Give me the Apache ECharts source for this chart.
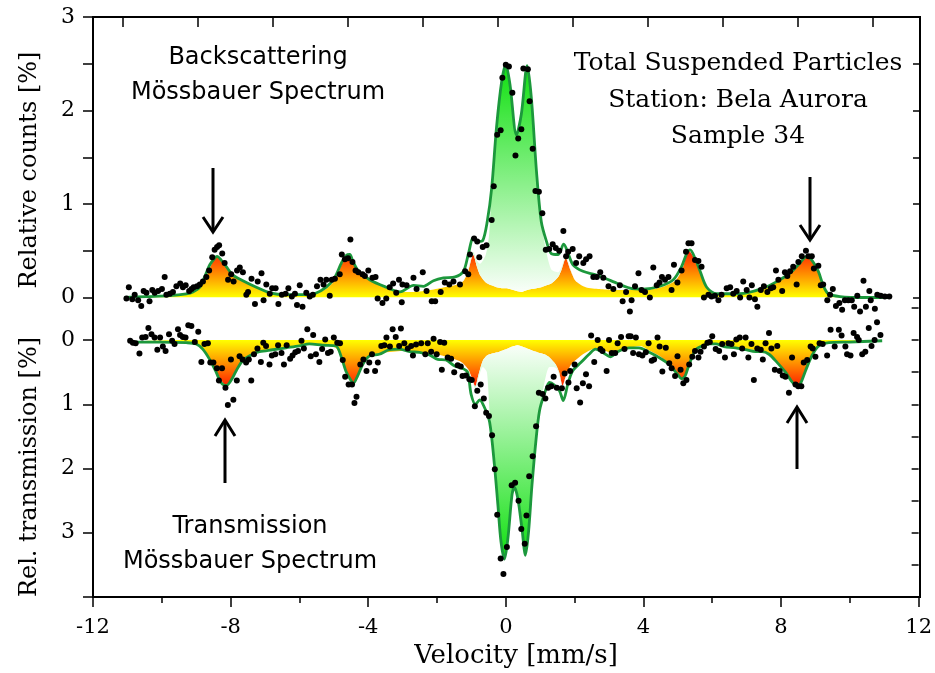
<!DOCTYPE html>
<html><head><meta charset="utf-8">
<script src="https://cdn.jsdelivr.net/npm/echarts@6/dist/echarts.min.js"></script>
<style>html,body{margin:0;padding:0;background:#fff}#c{width:935px;height:673px}</style>
</head><body><div id="c"></div>
<script>
// ---------- Backscattering spectrum (top panel) ----------
const bsPointVel = [-11.03,-10.96,-10.86,-10.79,-10.69,-10.60,-10.53,-10.45,-10.36,-10.28,-10.21,-10.11,-10.00,-9.92,-9.87,-9.77,-9.68,-9.58,-9.47,-9.39,-9.31,-9.21,-9.14,-9.08,-8.98,-8.90,-8.81,-8.71,-8.63,-8.54,-8.47,-8.40,-8.34,-8.25,-8.18,-8.08,-7.99,-7.92,-7.82,-7.74,-7.65,-7.55,-7.50,-7.40,-7.30,-7.22,-7.11,-7.05,-6.97,-6.87,-6.80,-6.70,-6.62,-6.52,-6.41,-6.33,-6.23,-6.14,-6.08,-6.00,-5.92,-5.81,-5.71,-5.62,-5.50,-5.40,-5.31,-5.23,-5.13,-5.07,-4.98,-4.84,-4.78,-4.69,-4.60,-4.53,-4.47,-4.38,-4.30,-4.18,-4.11,-4.01,-3.89,-3.80,-3.74,-3.60,-3.49,-3.39,-3.29,-3.20,-3.12,-3.02,
-3.04,-2.90,-2.70,-2.61,-2.43,-2.32,-2.17,-2.07,-1.91,-1.79,-1.66,-1.54,-1.35,-1.20,-1.11,-1.06,-0.94,-0.85,-0.79,-0.69,-0.58,-0.43,-0.37,-0.27,-0.17,-0.12,-0.02,0.07,0.17,0.26,0.34,0.43,0.49,0.62,0.67,0.76,0.84,0.94,1.04,1.14,1.24,1.34,1.43,1.53,1.65,1.73,1.79,1.92,2.02,2.11,2.23,2.31,2.41,2.52,2.62,2.72,2.81,2.96,3.10,3.29,3.37,3.47,
3.58,3.63,3.73,3.83,3.92,4.02,4.16,4.26,4.36,4.44,4.51,4.60,4.70,4.79,4.86,4.96,5.08,5.21,5.28,5.37,5.47,5.57,5.66,5.73,5.86,5.95,6.05,6.15,6.24,6.39,6.49,6.58,6.68,6.78,6.87,6.97,7.05,7.12,7.21,7.28,7.38,7.47,7.57,7.67,7.74,7.82,7.89,8.00,8.08,8.15,8.23,8.32,8.42,8.47,8.57,8.69,8.76,8.86,8.92,9.05,9.12,9.19,9.31,9.39,9.47,9.56,9.66,9.74,9.82,9.92,10.02,10.09,10.18,10.26,10.36,10.43,10.53,10.57,10.69,10.76,10.86,10.98,11.11];
const bsPointCounts = [-0.01,0.11,-0.02,0.03,-0.03,-0.09,0.07,0.05,-0.04,0.08,0.05,0.07,0.09,0.22,0.03,0.04,0.06,0.12,0.15,0.11,0.13,0.07,0.09,0.11,0.12,0.14,0.17,0.22,0.29,0.43,0.51,0.54,0.56,0.47,0.37,0.19,0.25,0.17,0.29,0.32,0.27,0.03,0.06,0.20,-0.07,0.17,0.26,-0.03,0.14,0.04,0.10,0.10,-0.07,0.03,0.04,0.10,0.01,0.04,-0.08,0.13,-0.10,0.05,0.01,0.03,0.12,0.19,0.14,0.19,0.02,0.19,0.20,0.25,0.46,0.41,0.42,0.62,0.38,0.29,0.27,0.25,0.23,0.29,0.21,0.22,-0.01,-0.06,-0.01,0.11,0.15,0.05,0.19,0.14,
-0.05,0.13,0.21,0.09,0.27,0.07,-0.04,-0.04,0.06,0.16,0.14,0.17,0.14,0.28,0.25,0.46,0.63,0.60,0.43,0.54,0.56,0.83,1.19,1.74,1.79,2.35,2.49,2.47,2.19,1.52,1.70,1.80,2.45,2.44,2.10,1.59,1.14,1.13,0.90,0.51,0.52,0.57,0.53,0.50,0.71,0.44,0.49,0.52,0.37,0.44,0.37,0.41,0.44,0.22,0.22,0.27,0.21,0.12,0.09,0.13,-0.04,0.06,
-0.15,-0.03,0.12,0.26,0.08,0.06,0.00,0.32,0.13,0.16,0.22,0.19,0.22,0.08,0.35,0.16,0.29,0.49,0.58,0.58,0.40,0.39,0.33,0.00,0.03,0.01,0.02,-0.03,0.03,0.10,0.11,0.04,0.07,0.00,0.17,0.08,0.00,0.13,-0.02,-0.10,0.08,0.12,0.06,0.10,0.11,0.29,0.19,0.07,0.27,0.23,0.28,0.33,0.14,0.38,0.44,0.50,0.44,0.44,0.31,0.34,0.13,0.14,-0.03,0.03,0.09,-0.09,-0.06,-0.13,-0.03,-0.03,-0.03,-0.10,0.02,-0.15,0.18,-0.10,0.07,-0.03,-0.12,0.03,0.02,0.01,0.01];
const bsFitVel = [-11.08,-10.45,-9.77,-9.29,-9.10,-8.90,-8.76,-8.61,-8.47,-8.40,-8.28,-8.13,-7.94,-7.65,-7.26,-6.87,-6.39,-5.81,-5.57,-5.23,-4.99,-4.79,-4.65,-4.55,-4.45,-4.31,-3.97,-3.49,-3.09,-2.70,-2.41,-2.12,-1.83,-1.49,-1.25,-1.11,-0.96,-0.82,-0.69,-0.56,-0.43,-0.29,-0.14,-0.02,0.10,0.29,0.43,0.60,0.72,0.87,1.01,1.16,1.30,1.50,1.66,1.79,1.93,2.22,2.61,3.09,3.58,3.97,4.45,4.84,5.08,5.23,5.33,5.47,5.62,5.81,6.10,6.49,6.97,7.45,7.84,8.23,8.52,8.71,8.86,9.05,9.19,9.34,9.68,10.36,11.13];
const bsFitCounts = [0.00,0.01,0.02,0.04,0.06,0.11,0.22,0.35,0.42,0.44,0.40,0.33,0.24,0.18,0.11,0.05,0.03,0.03,0.04,0.11,0.21,0.37,0.45,0.46,0.38,0.29,0.19,0.11,0.06,0.13,0.12,0.18,0.21,0.22,0.28,0.46,0.64,0.60,0.61,0.81,1.17,1.82,2.31,2.49,2.28,1.74,1.96,2.48,2.14,1.35,0.81,0.60,0.47,0.46,0.57,0.47,0.35,0.28,0.24,0.17,0.10,0.09,0.12,0.19,0.33,0.47,0.51,0.42,0.28,0.11,0.04,0.04,0.05,0.10,0.17,0.26,0.37,0.44,0.40,0.28,0.13,0.04,0.01,0.00,0.00];
const bsCompVel = [-11.1,-10,-9.5,-9.2,-9.0,-8.8,-8.6,-8.42,-8.3,-8.1,-7.9,-7.6,-7.2,-6.8,-6.2,-5.8,-5.5,-5.2,-4.95,-4.75,-4.57,-4.45,-4.3,-4.0,-3.5,-3.1,-2.7,-2.2,-1.8,-1.5,-1.25,-1.1,-0.97,-0.85,-0.77,-0.6,-0.5,-0.43,-0.29,-0.14,-0.02,0.1,0.29,0.43,0.6,0.72,0.87,1.01,1.16,1.3,1.5,1.6,1.72,1.85,2.0,2.3,2.7,3.1,3.6,4.0,4.5,4.9,5.1,5.29,5.45,5.6,5.8,6.1,6.5,7.0,7.5,7.9,8.25,8.55,8.72,8.9,9.05,9.2,9.35,9.7,11.1];
const bsSextet = [0,0.01,0.02,0.04,0.07,0.15,0.32,0.44,0.40,0.32,0.23,0.17,0.10,0.05,0.03,0.03,0.05,0.10,0.20,0.38,0.45,0.38,0.28,0.19,0.10,0.06,0.06,0.08,0.11,0.13,0.18,0.30,0.46,0.32,0.24,0.16,0.14,0.13,0.11,0.10,0.10,0.09,0.07,0.06,0.08,0.09,0.10,0.11,0.13,0.15,0.22,0.30,0.42,0.30,0.18,0.11,0.09,0.08,0.08,0.08,0.11,0.18,0.30,0.50,0.42,0.28,0.11,0.04,0.04,0.05,0.10,0.17,0.26,0.38,0.44,0.38,0.27,0.12,0.04,0.01,0];
const bsDoublet = [0,0,0,0,0,0,0,0,0,0,0,0,0,0,0,0,0,0,0,0,0,0,0,0,0,0,0,0,0,0,0.01,0.02,0.03,0.07,0.12,0.30,0.55,1.04,1.71,2.21,2.39,2.19,1.68,1.89,2.40,2.05,1.25,0.70,0.35,0.15,0.05,0.03,0.02,0.01,0,0,0,0,0,0,0,0,0,0,0,0,0,0,0,0,0,0,0,0,0,0,0,0,0,0,0];

// ---------- Transmission spectrum (bottom panel) ----------
const trPointVel = [-10.92,-10.84,-10.76,-10.65,-10.57,-10.47,-10.39,-10.30,-10.21,-10.13,-10.05,-9.97,-9.89,-9.79,-9.70,-9.63,-9.53,-9.47,-9.39,-9.31,-9.23,-9.14,-9.04,-8.94,-8.85,-8.76,-8.66,-8.59,-8.50,-8.40,-8.34,-8.25,-8.15,-8.08,-7.99,-7.92,-7.82,-7.74,-7.65,-7.55,-7.47,-7.40,-7.32,-7.22,-7.12,-7.05,-6.97,-6.87,-6.80,-6.70,-6.62,-6.52,-6.45,-6.37,-6.27,-6.20,-6.12,-6.04,-5.94,-5.87,-5.77,-5.67,-5.60,-5.52,-5.42,-5.34,-5.25,-5.17,-5.09,-5.00,-4.90,-4.82,-4.74,-4.67,-4.57,-4.47,-4.40,-4.34,-4.23,-4.14,-4.05,-3.97,-3.89,-3.80,-3.72,-3.62,-3.53,-3.47,-3.37,-3.29,-3.20,-3.10,-3.05,
-2.95,-2.85,-2.75,-2.70,-2.61,-2.46,-2.34,-2.27,-2.17,-2.10,-2.01,-1.91,-1.86,-1.79,-1.69,-1.59,-1.50,-1.40,-1.31,-1.26,-1.16,-1.06,-0.99,-0.90,-0.83,-0.73,-0.64,-0.57,-0.49,-0.40,-0.32,-0.25,-0.15,-0.07,0.03,0.17,0.27,0.37,0.45,0.55,0.60,0.68,0.78,0.88,0.96,1.07,1.15,1.23,1.32,1.39,1.48,1.63,1.71,1.82,1.87,2.00,2.06,2.16,2.24,2.33,2.42,2.48,2.57,2.67,2.75,2.81,2.93,3.00,3.08,3.18,3.25,3.35,3.45,3.57,
3.63,3.70,3.78,3.87,3.97,4.07,4.15,4.24,4.31,4.41,4.47,4.55,4.65,4.75,4.82,4.92,4.99,5.08,5.16,5.25,5.33,5.42,5.50,5.60,5.66,5.76,5.86,5.93,6.00,6.10,6.20,6.29,6.37,6.47,6.56,6.63,6.70,6.80,6.87,6.97,7.05,7.14,7.21,7.31,7.41,7.47,7.55,7.65,7.72,7.82,7.89,7.96,8.05,8.13,8.23,8.32,8.42,8.50,8.59,8.66,8.76,8.86,8.92,9.00,9.12,9.21,9.34,9.44,9.56,9.68,9.76,9.87,9.92,10.02,10.11,10.21,10.26,10.36,10.45,10.55,10.63,10.72,10.79,10.89];
const trPointTrans = [0.01,0.04,0.05,0.21,-0.04,-0.05,-0.19,-0.09,-0.04,0.15,-0.04,0.10,0.17,-0.09,0.01,0.06,-0.17,-0.08,-0.05,-0.04,-0.23,-0.22,0.03,-0.13,0.34,0.06,0.05,0.35,0.35,0.44,0.63,0.44,0.74,1.01,0.30,0.93,0.63,0.25,0.30,0.35,0.30,0.63,0.22,0.13,0.34,0.04,0.09,0.38,0.24,0.22,0.08,0.20,0.38,0.08,0.29,0.24,0.19,0.17,0.01,0.13,-0.17,0.25,-0.08,0.22,0.34,0.14,-0.01,0.20,0.18,-0.04,0.04,0.05,0.31,0.57,0.69,0.69,0.98,0.88,0.38,0.30,0.48,0.35,0.22,0.48,0.35,0.09,0.08,-0.04,0.10,-0.17,-0.05,0.09,-0.18,
0.05,0.13,0.09,0.24,0.07,0.05,0.22,0.05,0.18,-0.02,0.22,0.03,0.46,0.04,0.27,0.29,0.50,0.39,0.41,0.56,0.55,0.61,0.62,1.03,0.79,0.69,0.91,1.13,1.18,1.48,2.01,2.72,3.40,3.64,3.22,2.26,2.22,2.50,2.94,3.17,2.73,2.12,1.81,1.34,0.82,0.84,0.91,0.74,0.72,0.57,0.74,0.75,0.52,0.66,0.48,0.38,0.75,0.97,0.67,0.53,0.72,-0.07,0.34,0.00,0.14,0.17,0.48,0.00,0.20,0.20,0.05,-0.05,0.14,-0.06,
-0.06,0.20,-0.04,0.22,0.24,0.19,0.05,0.32,0.30,-0.04,0.10,0.49,0.12,0.36,0.44,0.56,0.25,0.46,0.67,0.62,0.38,0.26,0.17,0.27,0.18,0.10,0.04,0.03,-0.06,0.14,0.17,0.06,0.27,0.05,0.06,0.22,-0.01,-0.04,0.13,-0.04,0.27,0.06,0.62,0.13,0.15,0.30,0.05,-0.11,0.13,0.46,0.09,0.48,0.55,0.57,0.82,0.27,0.69,0.72,0.72,0.35,0.31,0.10,0.13,0.26,0.05,0.06,0.24,-0.16,0.10,-0.16,-0.07,0.10,0.22,0.24,-0.11,-0.05,0.00,0.22,0.18,-0.19,0.09,0.00,-0.28,-0.08];
const trFitVel = [-10.92,-10.07,-9.29,-9.0,-8.81,-8.61,-8.42,-8.28,-8.13,-7.99,-7.84,-7.65,-7.36,-7.16,-6.78,-6.39,-6.0,-5.71,-5.32,-4.94,-4.79,-4.65,-4.50,-4.43,-4.31,-4.16,-3.97,-3.68,-3.39,-3.10,-2.80,-2.51,-2.22,-1.98,-1.74,-1.50,-1.26,-1.11,-1.01,-0.88,-0.76,-0.62,-0.47,-0.33,-0.23,-0.14,-0.04,0.06,0.18,0.25,0.35,0.47,0.57,0.66,0.76,0.88,0.98,1.12,1.27,1.41,1.56,1.67,1.80,1.94,2.18,2.42,2.61,2.81,3.05,3.25,3.58,3.87,4.17,4.45,4.75,4.99,5.11,5.21,5.33,5.52,5.71,5.91,6.10,6.34,6.68,6.97,7.26,7.45,7.65,7.89,8.13,8.32,8.47,8.57,8.71,8.90,9.10,9.39,9.97,10.94];
const trFitTrans = [0.03,0.03,0.04,0.06,0.14,0.30,0.50,0.66,0.71,0.63,0.48,0.32,0.22,0.18,0.15,0.12,0.09,0.06,0.08,0.09,0.25,0.48,0.63,0.67,0.56,0.38,0.25,0.22,0.15,0.14,0.18,0.19,0.23,0.30,0.31,0.40,0.44,0.50,0.84,1.00,0.93,1.05,1.28,1.95,2.57,3.14,3.41,3.09,2.41,2.29,2.47,2.94,3.35,2.99,2.26,1.54,1.10,0.84,0.66,0.70,0.79,0.94,0.69,0.48,0.35,0.22,0.14,0.19,0.26,0.18,0.12,0.12,0.19,0.27,0.38,0.53,0.60,0.56,0.38,0.15,0.09,0.06,0.06,0.10,0.12,0.15,0.18,0.18,0.22,0.35,0.50,0.65,0.71,0.67,0.48,0.24,0.09,0.04,0.03,0.01];
const trCompVel = [-11,-9.5,-9.0,-8.8,-8.6,-8.4,-8.2,-8.1,-7.95,-7.8,-7.6,-7.35,-7.0,-6.5,-6.0,-5.6,-5.2,-4.95,-4.8,-4.65,-4.52,-4.45,-4.33,-4.15,-3.95,-3.6,-3.0,-2.5,-2.0,-1.6,-1.3,-1.1,-0.98,-0.89,-0.8,-0.67,-0.55,-0.47,-0.33,-0.23,-0.14,-0.04,0.06,0.18,0.25,0.35,0.47,0.57,0.66,0.76,0.88,0.98,1.12,1.27,1.45,1.55,1.65,1.75,1.9,2.05,2.3,2.6,2.9,3.1,3.4,3.9,4.2,4.5,4.8,5.0,5.13,5.25,5.4,5.6,5.9,6.3,7.0,7.5,7.8,8.1,8.35,8.47,8.6,8.75,8.95,9.15,9.5,10.9];
const trSextet = [0,0.02,0.06,0.14,0.30,0.50,0.68,0.71,0.60,0.45,0.30,0.21,0.17,0.13,0.09,0.06,0.08,0.12,0.25,0.48,0.64,0.67,0.56,0.37,0.25,0.20,0.17,0.19,0.22,0.28,0.34,0.45,0.60,0.72,0.55,0.32,0.24,0.22,0.20,0.19,0.17,0.15,0.13,0.10,0.09,0.08,0.10,0.12,0.14,0.16,0.18,0.20,0.22,0.27,0.38,0.50,0.71,0.55,0.38,0.30,0.20,0.13,0.17,0.20,0.15,0.09,0.17,0.26,0.40,0.53,0.62,0.52,0.30,0.12,0.06,0.08,0.14,0.18,0.28,0.48,0.66,0.71,0.65,0.45,0.20,0.08,0.03,0];
const trDoublet = [0,0,0,0,0,0,0,0,0,0,0,0,0,0,0,0,0,0,0,0,0,0,0,0,0,0,0,0,0,0,0,0.01,0.02,0.03,0.05,0.10,0.26,0.93,1.75,2.38,2.97,3.26,2.96,2.31,2.20,2.39,2.84,3.23,2.85,2.10,1.36,0.90,0.45,0.15,0.05,0.03,0.02,0.01,0,0,0,0,0,0,0,0,0,0,0,0,0,0,0,0,0,0,0,0,0,0,0,0,0,0,0,0,0,0];

// ---------- Axis ticks ----------
const velLabelInterval = 4;
const topScaleMin = 0, topScaleMax = 10, topScaleInterval = 1;
const countLabels = [0,1,2,3];
const countTicks = [0,0.5,1,1.5,2,2.5,3];
const transLabels = [0,1,2,3];
const transTicksLeft = [0,1,2,3,4];
const transTicksRight = [-0.5,0,0.5,1,1.5,2,2.5,3,3.5,4];

const zip = (a, b) => a.map((v, i) => [v, b[i]]);
const serif = 'DejaVu Serif';
const fitGreen = '#1c983c';
const grad = (stops) => new echarts.graphic.LinearGradient(0,0,0,1,stops);
const sextetTopGrad = grad([{offset:0,color:'#ff1e00'},{offset:0.5,color:'#ff8f00'},{offset:1,color:'#ffff00'}]);
const sextetBotGrad = grad([{offset:0,color:'#ffff00'},{offset:0.5,color:'#ff8f00'},{offset:1,color:'#ff1e00'}]);
const doubletTopGrad = grad([{offset:0,color:'#10e010'},{offset:1,color:'#ffffff'}]);
const doubletBotGrad = grad([{offset:0,color:'#ffffff'},{offset:1,color:'#10e010'}]);
const tickStyle = () => ({color:'#000', width:1.5});
const noLine = () => ({show:false, onZero:false});

// value first, velocity second, so that the stack runs along the y (value) dimension
function areaSeries(name, xi, yi, vel, vals, stack, fill) {
  return {name, type:'line', xAxisIndex:xi, yAxisIndex:yi, data:zip(vals, vel), encode:{x:1, y:0},
    stack, smooth:0.25, symbol:'none', lineStyle:{width:0}, areaStyle:{color:fill, opacity:1}, z:1, silent:true};
}
const annText = (x, y, text, font, rot) => ({type:'text', x, y, rotation:rot || 0,
  style:{text, font, fill:'#000', textAlign:'center', textVerticalAlign:'middle'}});
const stroke = (points) => ({type:'polyline', shape:{points}, style:{stroke:'#000', lineWidth:3, fill:'none'}});

const sansFont = '24px "DejaVu Sans"';
const serifFont = '25px "DejaVu Serif"';
const titleFont = '24px "DejaVu Serif"';

const option = {
  animation:false,
  backgroundColor:'#ffffff',
  grid:[
    {left:93, right:15, top:17, height:280.5},
    {left:93, right:15, top:308, height:289},
    // strip above the frame whose bottom axis carries the top-edge scale ticks (123 ... 873 px)
    {left:123, right:62, top:7, height:10}
  ],
  xAxis:[
    // velocity scale used by the backscattering data (hidden)
    {gridIndex:0, type:'value', position:'bottom', min:-12, max:12, show:false, axisLine:noLine()},
    {gridIndex:1, type:'value', position:'bottom', min:-12, max:12, interval:velLabelInterval, axisLine:noLine(),
      axisTick:{show:true, length:10, lineStyle:tickStyle()},
      minorTick:{show:true, splitNumber:2, length:6, lineStyle:tickStyle()},
      axisLabel:{fontFamily:serif, fontSize:21, color:'#000', margin:20},
      splitLine:{show:false}, minorSplitLine:{show:false}},
    // top-edge scale of the backscattering panel (ticks only, pointing down into the plot)
    {gridIndex:2, type:'value', position:'bottom', min:topScaleMin, max:topScaleMax, interval:topScaleInterval,
      axisLine:noLine(), axisTick:{show:true, length:10, lineStyle:tickStyle()},
      axisLabel:{show:false}, splitLine:{show:false}}
  ],
  yAxis:[
    {gridIndex:0, type:'value', position:'left', min:0, max:3, axisLine:noLine(),
      axisTick:{show:true, length:10, customValues:countTicks, lineStyle:tickStyle()},
      axisLabel:{customValues:countLabels, fontFamily:serif, fontSize:22, color:'#000', margin:18},
      splitLine:{show:false}},
    {gridIndex:0, type:'value', position:'right', min:0, max:3, axisLine:noLine(),
      axisTick:{show:true, inside:true, length:7, customValues:countTicks, lineStyle:tickStyle()},
      axisLabel:{show:false}, splitLine:{show:false}},
    {gridIndex:1, type:'value', position:'left', min:-0.5, max:4, inverse:true, axisLine:noLine(),
      axisTick:{show:true, length:10, customValues:transTicksLeft, lineStyle:tickStyle()},
      axisLabel:{customValues:transLabels, fontFamily:serif, fontSize:22, color:'#000', margin:18},
      splitLine:{show:false}},
    {gridIndex:1, type:'value', position:'right', min:-0.5, max:4, inverse:true, axisLine:noLine(),
      axisTick:{show:true, inside:true, length:7, customValues:transTicksRight, lineStyle:tickStyle()},
      axisLabel:{show:false}, splitLine:{show:false}},
    {gridIndex:2, type:'value', min:0, max:1, show:false, axisLine:noLine()}
  ],
  series:[
    areaSeries('bsSextet', 0, 0, bsCompVel, bsSextet, 'bs', sextetTopGrad),
    areaSeries('bsDoublet', 0, 0, bsCompVel, bsDoublet, 'bs', doubletTopGrad),
    {name:'bsFit', type:'line', xAxisIndex:0, yAxisIndex:0, data:zip(bsFitVel, bsFitCounts), smooth:0.3, symbol:'none',
      lineStyle:{color:fitGreen, width:2.8}, z:3, silent:true},
    {name:'bsData', type:'scatter', xAxisIndex:0, yAxisIndex:0, data:zip(bsPointVel, bsPointCounts), symbolSize:6,
      itemStyle:{color:'#000', opacity:1}, clip:false, z:4, silent:true},
    areaSeries('trSextet', 1, 2, trCompVel, trSextet, 'tr', sextetBotGrad),
    areaSeries('trDoublet', 1, 2, trCompVel, trDoublet, 'tr', doubletBotGrad),
    {name:'trFit', type:'line', xAxisIndex:1, yAxisIndex:2, data:zip(trFitVel, trFitTrans), smooth:0.3, symbol:'none',
      lineStyle:{color:fitGreen, width:2.8}, z:3, silent:true},
    {name:'trData', type:'scatter', xAxisIndex:1, yAxisIndex:2, data:zip(trPointVel, trPointTrans), symbolSize:6,
      itemStyle:{color:'#000', opacity:1}, clip:false, z:4, silent:true}
  ],
  graphic:[
    {type:'rect', shape:{x:93, y:17, width:827, height:580}, style:{fill:'none', stroke:'#000', lineWidth:2}, z:100, silent:true},
    annText(258, 58, 'Backscattering', sansFont),
    annText(258, 93, 'Mössbauer Spectrum', sansFont),
    annText(250, 527, 'Transmission', sansFont),
    annText(250, 562, 'Mössbauer Spectrum', sansFont),
    annText(738, 63, 'Total Suspended Particles', serifFont),
    annText(738, 100, 'Station: Bela Aurora', serifFont),
    annText(738, 136, 'Sample 34', serifFont),
    annText(30, 170, 'Relative counts [%]', titleFont, Math.PI/2),
    annText(30, 467, 'Rel. transmission [%]', titleFont, Math.PI/2),
    annText(516, 656, 'Velocity [mm/s]', '26px "DejaVu Serif"'),
    stroke([[213,168],[213,231]]), stroke([[203,217],[213,232],[223,217]]),
    stroke([[810,177],[810,239]]), stroke([[800,225],[810,240],[820,225]]),
    stroke([[225,421],[225,483]]), stroke([[215,436],[225,420],[235,436]]),
    stroke([[797,408],[797,469]]), stroke([[787,423],[797,407],[807,423]])
  ]
};
try {
  const chart = echarts.init(document.getElementById('c'));
  chart.setOption(option);
} catch (e) {
  document.body.insertAdjacentHTML('beforeend', '<pre style="position:absolute;top:0;left:0;font-size:11px">' + e.stack + '</pre>');
}
</script>
</body></html>
